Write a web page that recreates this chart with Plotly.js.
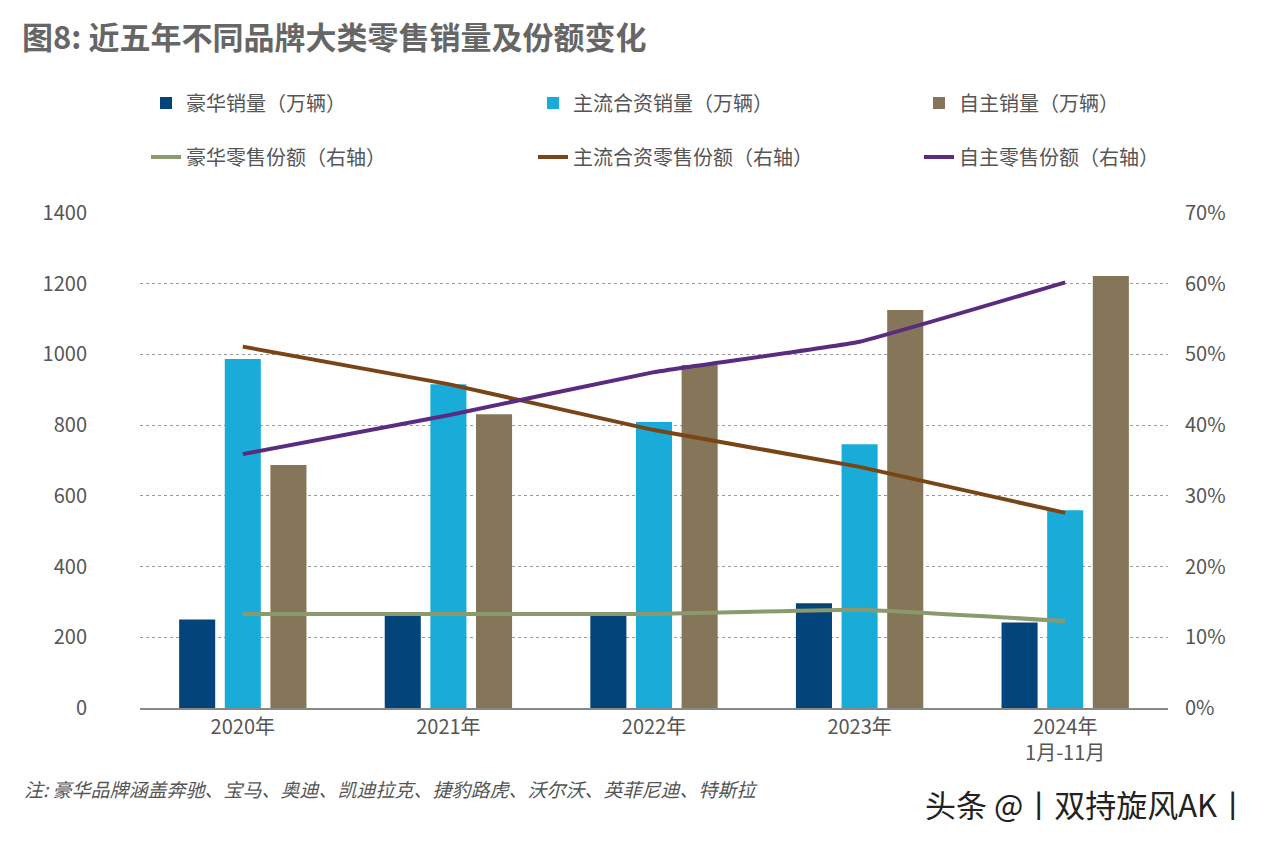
<!DOCTYPE html>
<html>
<head>
<meta charset="utf-8">
<script src="https://cdn.plot.ly/plotly-3.0.1.min.js"></script>
<style>html,body{margin:0;padding:0;background:#fff;}#chart{width:1280px;height:845px;}</style>
</head>
<body>
<div id="chart"></div>
<script>
const categories = ["2020年", "2021年", "2022年", "2023年", "2024年<br>1月-11月"];
const luxuryVolume = [250, 261, 261, 296, 242];
const jvVolume = [987, 916, 809, 746, 559];
const domesticVolume = [687, 831, 970, 1126, 1222];
const luxuryShare = [13.3, 13.3, 13.3, 13.9, 12.3];
const jvShare = [51.1, 45.8, 39.3, 34.1, 27.6];
const domesticShare = [35.9, 41.4, 47.5, 51.8, 60.2];
const leftTicks = [0, 200, 400, 600, 800, 1000, 1200, 1400];
const rightTicks = [0, 10, 20, 30, 40, 50, 60, 70];
const rightTickLabels = ["0%", "10%", "20%", "30%", "40%", "50%", "60%", "70%"];

const FONT = '"Noto Sans CJK SC", "Noto Sans", sans-serif';
const TXT = '#555555';

const traces = [
  {type:'bar', name:'豪华销量（万辆）', x:categories, y:luxuryVolume, marker:{color:'#03457a'}, legend:'legend'},
  {type:'bar', name:'主流合资销量（万辆）', x:categories, y:jvVolume, marker:{color:'#1aacd9'}, legend:'legend2'},
  {type:'bar', name:'自主销量（万辆）', x:categories, y:domesticVolume, marker:{color:'#85765a'}, legend:'legend3'},
  {type:'scatter', mode:'lines', name:'豪华零售份额（右轴）', x:categories, y:luxuryShare, yaxis:'y2', line:{color:'#8a9a6c', width:4, shape:'spline', smoothing:0.3}, legend:'legend4'},
  {type:'scatter', mode:'lines', name:'主流合资零售份额（右轴）', x:categories, y:jvShare, yaxis:'y2', line:{color:'#7a4516', width:4, shape:'spline', smoothing:0.3}, legend:'legend5'},
  {type:'scatter', mode:'lines', name:'自主零售份额（右轴）', x:categories, y:domesticShare, yaxis:'y2', line:{color:'#5a2c80', width:4, shape:'spline', smoothing:0.3}, legend:'legend6'}
];

function mkLegend(px, py) {
  return {
    orientation:'h', xanchor:'left', yanchor:'middle', xref:'container', yref:'container',
    x:px/1280, y:1-py/845,
    font:{family:FONT, size:20, color:TXT}, bgcolor:'rgba(0,0,0,0)', itemclick:false
  };
}

const layout = {
  width:1280, height:845,
  paper_bgcolor:'#ffffff', plot_bgcolor:'#ffffff',
  margin:{l:140, r:112, t:213, b:137},
  font:{family:FONT, color:TXT, size:20},
  title:{text:'<b>图8: 近五年不同品牌大类零售销量及份额变化</b>', x:22/1280, xanchor:'left', xref:'container',
         y:1-38/845, yanchor:'middle', yref:'container', font:{family:FONT, size:31, color:'#666666'}},
  barmode:'group', bargap:0.334, bargroupgap:0.21,
  xaxis:{type:'category', range:[-0.5, 4.5], showgrid:false, showline:true, linecolor:'#888888', linewidth:1.5,
         ticks:'', tickfont:{family:FONT, size:20, color:TXT}, fixedrange:true},
  yaxis:{range:[0, 1400], tickvals:leftTicks, ticktext:leftTicks.map(String), showgrid:true, gridcolor:'#9a9a9a', griddash:'dot', gridwidth:1,
         zeroline:false, showline:false, ticks:'', ticklabelstandoff:52, tickfont:{family:FONT, size:20, color:TXT}},
  yaxis2:{range:[0, 70], overlaying:'y', side:'right', tickvals:rightTicks, ticktext:rightTickLabels, showgrid:false, zeroline:false,
          showline:false, ticks:'', ticklabelstandoff:16, tickfont:{family:FONT, size:20, color:TXT}},
  legend:mkLegend(146, 103),
  legend2:mkLegend(533, 103),
  legend3:mkLegend(919, 103),
  legend4:mkLegend(146, 157),
  legend5:mkLegend(533, 157),
  legend6:mkLegend(919, 157),
  annotations:[
    {text:'<i>注: 豪华品牌涵盖奔驰、宝马、奥迪、凯迪拉克、捷豹路虎、沃尔沃、英菲尼迪、特斯拉</i>', xref:'paper', yref:'paper',
     x:-118/1028, y:-(788-708)/495, xanchor:'left', yanchor:'middle', showarrow:false, font:{family:FONT, size:19, color:'#555555'}},
    {text:'头条 @丨双持旋风AK丨', xref:'paper', yref:'paper', x:(1250-140)/1028, y:-(803-708)/495,
     xanchor:'right', yanchor:'middle', showarrow:false, font:{family:FONT, size:31, color:'#222222'}}
  ],
  showlegend:true
};

Plotly.newPlot('chart', traces, layout, {displayModeBar:false, staticPlot:true});
</script>
</body>
</html>
